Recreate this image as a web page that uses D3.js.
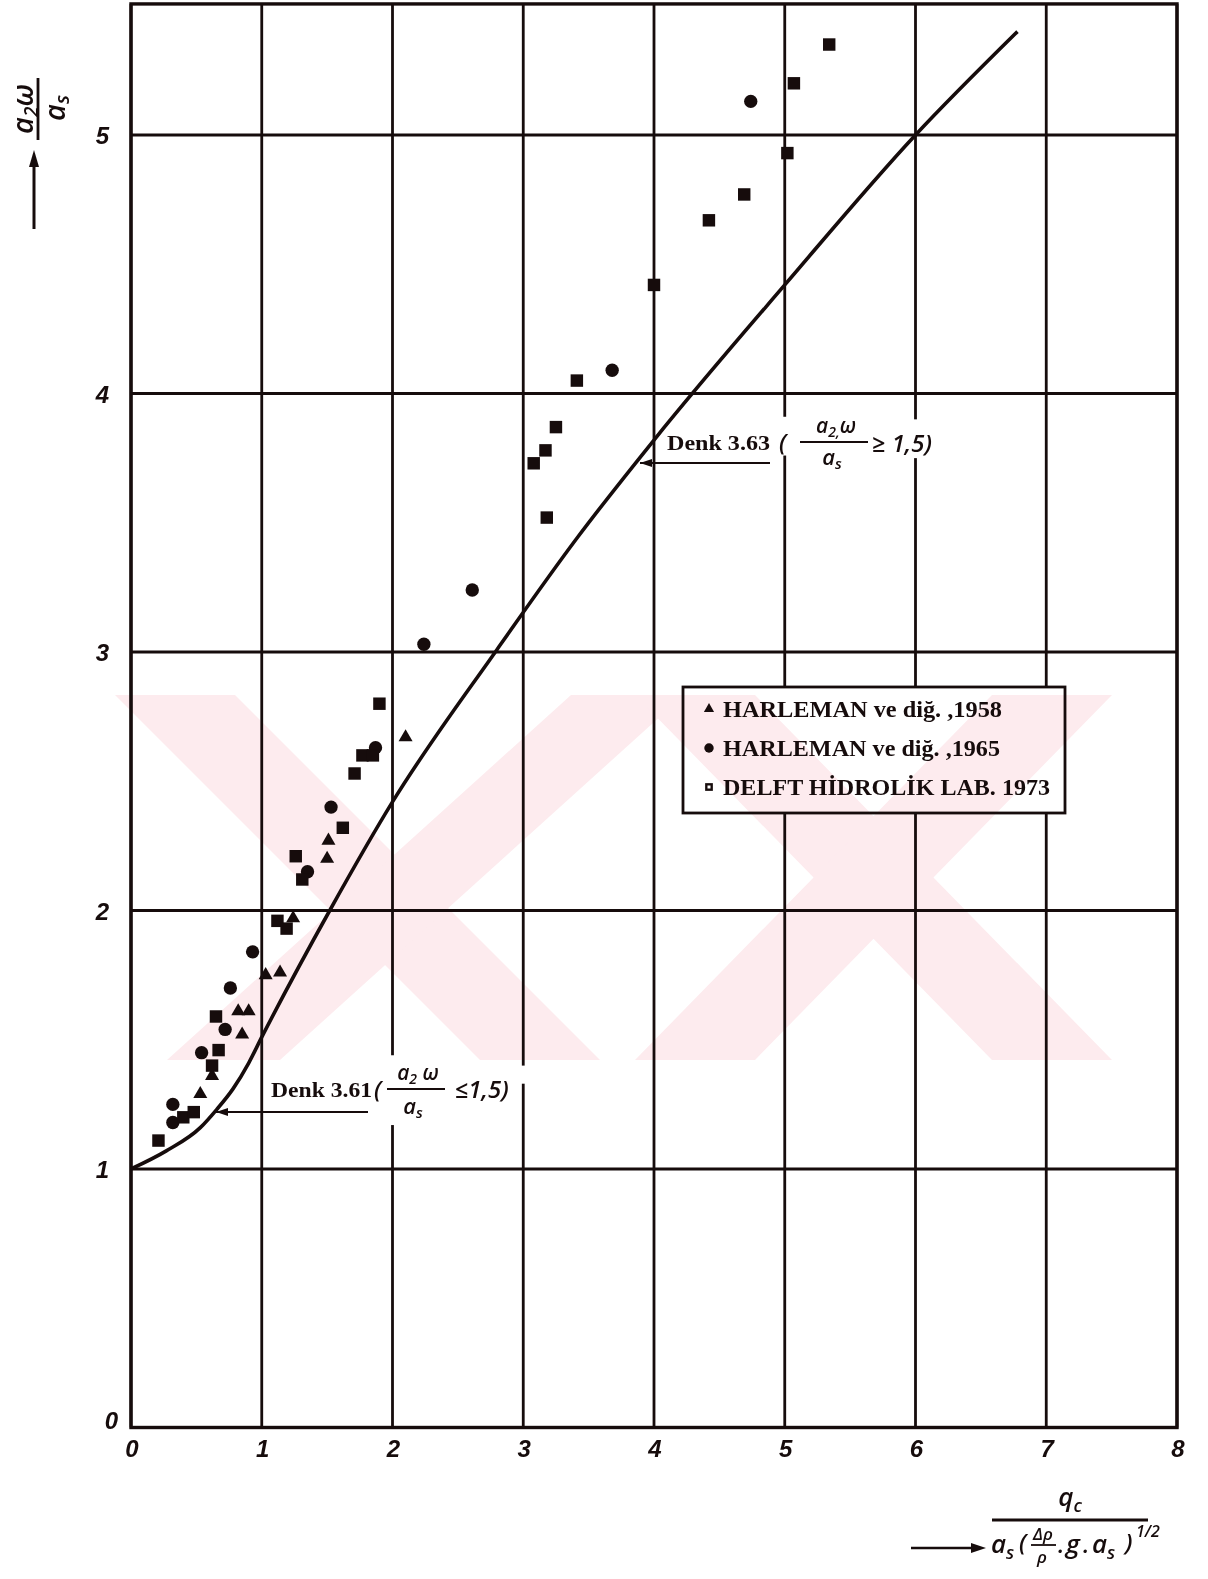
<!DOCTYPE html>
<html>
<head>
<meta charset="utf-8">
<script src="https://cdn.jsdelivr.net/npm/d3@7"></script>
<style>
body { margin: 0; background: #fff; }
svg { display: block; }
</style>
</head>
<body>
<div id="wrapper"></div>
<script>
// HARLEMAN ve diğ. 1958 (üçgen)
const h58X = [0.53, 0.62, 0.82, 0.90, 0.85, 1.03, 1.14, 1.24, 1.51, 1.50, 2.10];
const h58Y = [1.29, 1.36, 1.61, 1.61, 1.52, 1.75, 1.76, 1.97, 2.27, 2.20, 2.67];
// HARLEMAN ve diğ. 1965 (daire)
const h65X = [0.32, 0.32, 0.54, 0.72, 0.76, 0.93, 1.35, 1.53, 1.87, 2.24, 2.61, 3.68, 4.74];
const h65Y = [1.18, 1.25, 1.45, 1.54, 1.70, 1.84, 2.15, 2.40, 2.63, 3.03, 3.24, 4.09, 5.13];
// DELFT HİDROLİK LAB. 1973 (kare)
const delftX = [0.21, 0.40, 0.48, 0.62, 0.67, 0.65, 1.12, 1.19, 1.26, 1.31, 1.62, 1.71, 1.77, 1.85, 1.90,
                3.08, 3.17, 3.25, 3.18, 3.41, 4.00, 4.42, 4.69, 5.02, 5.07, 5.34];
const delftY = [1.11, 1.20, 1.22, 1.40, 1.46, 1.59, 1.96, 1.93, 2.21, 2.12, 2.32, 2.53, 2.60, 2.60, 2.80,
                3.73, 3.78, 3.87, 3.52, 4.05, 4.42, 4.67, 4.77, 4.93, 5.20, 5.35];
// Denk 3.61 / 3.63 eğrisi
const curveX = [0, 0.27, 0.53, 0.655, 0.78, 0.9, 1.0, 1.52, 2.0, 2.8, 3.41, 4.0, 5.0, 6.0, 6.78];
const curveY = [1, 1.07, 1.16, 1.23, 1.31, 1.41, 1.51, 2.0, 2.42, 3.01, 3.44, 3.82, 4.42, 5.0, 5.40];

const xTicks = [0, 1, 2, 3, 4, 5, 6, 7, 8];
const yTicks = [0, 1, 2, 3, 4, 5];
const legendLabels = ["HARLEMAN ve diğ. ,1958", "HARLEMAN ve diğ. ,1965", "DELFT HİDROLİK LAB. 1973"];

const width = 1208, height = 1579;
const ink = "#160c0c";
const mathFont = "'Open Sans', sans-serif";
const serifFont = "'Liberation Serif', 'Times New Roman', serif";

const svg = d3.select("#wrapper").append("svg")
    .attr("width", width)
    .attr("height", height);

svg.append("rect").attr("width", width).attr("height", height).attr("fill", "#fff");

const x = d3.scaleLinear().domain([0, 8]).range([131, 1177]);
const y = d3.scaleLinear().domain([0, 5]).range([1427.5, 135]);
const yTop = 5.507;

// grid
const grid = svg.append("g").attr("stroke", ink).attr("stroke-width", 2.8);
grid.selectAll("line.v").data(xTicks).join("line")
    .attr("x1", d => x(d)).attr("x2", d => x(d))
    .attr("y1", y(yTop)).attr("y2", y(0));
grid.selectAll("line.h").data(yTicks).join("line")
    .attr("x1", x(0)).attr("x2", x(8))
    .attr("y1", d => y(d)).attr("y2", d => y(d));
svg.append("rect")
    .attr("x", x(0)).attr("y", y(yTop))
    .attr("width", x(8) - x(0)).attr("height", y(0) - y(yTop))
    .attr("fill", "none").attr("stroke", ink).attr("stroke-width", 3.4);

// gaps in grid where the labels sit
const gaps = [[5, 3.76, 3.91], [6, 3.75, 3.90], [2, 1.17, 1.44], [3, 1.33, 1.40]];
svg.append("g").selectAll("rect").data(gaps).join("rect")
    .attr("x", d => x(d[0]) - 3).attr("width", 6)
    .attr("y", d => y(d[2])).attr("height", d => y(d[1]) - y(d[2]))
    .attr("fill", "#fff");

// curve
const line = d3.line()
    .x((d, i) => x(curveX[i]))
    .y(d => y(d))
    .curve(d3.curveMonotoneX);
svg.append("path")
    .attr("d", line(curveY))
    .attr("fill", "none")
    .attr("stroke", ink)
    .attr("stroke-width", 3.6);

// points
function drawSeries(xs, ys, type, size) {
    const sym = d3.symbol().type(type).size(size);
    svg.append("g").selectAll("path").data(ys).join("path")
        .attr("d", sym)
        .attr("transform", (d, i) => `translate(${x(xs[i])},${y(d)})`)
        .attr("fill", ink);
}
drawSeries(h58X, h58Y, d3.symbolTriangle, 85);
drawSeries(h65X, h65Y, d3.symbolCircle, 140);
drawSeries(delftX, delftY, d3.symbolSquare, 155);

// tick labels
const tickStyle = s => s.style("font-family", "'Liberation Sans', Arial, sans-serif")
    .style("font-weight", "bold").style("font-style", "italic")
    .style("font-size", "24px").attr("fill", ink);
svg.append("g").selectAll("text").data(xTicks).join("text")
    .attr("x", d => x(d) + 1).attr("y", 1457)
    .attr("text-anchor", "middle")
    .text(d => d)
    .call(tickStyle);
svg.append("g").selectAll("text").data(yTicks).join("text")
    .attr("x", d => d === 0 ? 118 : 109)
    .attr("y", d => y(d) + (d === 0 ? 1 : 9))
    .attr("text-anchor", "end")
    .text(d => d)
    .call(tickStyle);

// legend
const legend = svg.append("g");
legend.append("rect")
    .attr("x", 683).attr("y", 687).attr("width", 382).attr("height", 126)
    .attr("fill", "#fff").attr("stroke", ink).attr("stroke-width", 2.8);
const legendTypes = [d3.symbolTriangle, d3.symbolCircle, d3.symbolSquare];
const legendSizes = [45, 70, 60];
const legendLengths = [279, 277, 327];
legendLabels.forEach((label, i) => {
    const cy = 710 + i * 39;
    legend.append("path")
        .attr("d", d3.symbol().type(legendTypes[i]).size(legendSizes[i]))
        .attr("transform", `translate(709,${cy - 1})`)
        .attr("fill", ink);
    legend.append("text")
        .attr("x", 723).attr("y", cy + 7)
        .attr("textLength", legendLengths[i])
        .attr("lengthAdjust", "spacingAndGlyphs")
        .style("font-family", serifFont).style("font-weight", "bold")
        .style("font-size", "23px").attr("fill", ink)
        .text(label);
});
legend.append("rect").attr("x", 707.5).attr("y", 785.5).attr("width", 3).attr("height", 3).attr("fill", "#fff");

// annotations
function arrowLeft(x1, x2, yy) {
    svg.append("line").attr("x1", x1).attr("x2", x2).attr("y1", yy).attr("y2", yy)
        .attr("stroke", ink).attr("stroke-width", 2);
    svg.append("path")
        .attr("d", `M${x2},${yy} l12,-4 l0,8 z`)
        .attr("fill", ink);
}
function serifText(tx, ty, s, len) {
    svg.append("text").attr("x", tx).attr("y", ty)
        .attr("textLength", len).attr("lengthAdjust", "spacingAndGlyphs")
        .style("font-family", serifFont).style("font-weight", "bold")
        .style("font-size", "22px").attr("fill", ink).text(s);
}
function mathText(tx, ty, size, anchor) {
    return svg.append("text").attr("x", tx).attr("y", ty)
        .attr("text-anchor", anchor || "start")
        .style("font-family", mathFont).style("font-style", "italic")
        .style("font-weight", 600).style("font-size", size + "px").attr("fill", ink);
}
function hline(x1, x2, yy, w) {
    svg.append("line").attr("x1", x1).attr("x2", x2).attr("y1", yy).attr("y2", yy)
        .attr("stroke", ink).attr("stroke-width", w || 2);
}

// Denk 3.63
serifText(667, 450, "Denk 3.63", 103);
mathText(779, 451, 24).text("(");
const n1 = mathText(836, 433, 21, "middle");
n1.append("tspan").text("a");
n1.append("tspan").attr("font-size", "14px").attr("dy", 4).text("2,");
n1.append("tspan").attr("dy", -4).text("ω");
hline(800, 868, 442, 2);
const d1 = mathText(832, 465, 22, "middle");
d1.append("tspan").text("a");
d1.append("tspan").attr("font-size", "15px").attr("dy", 4).text("s");
mathText(872, 452, 24).text("≥ 1,5)");
arrowLeft(770, 640, 463);

// Denk 3.61
serifText(271, 1097, "Denk 3.61", 101);
mathText(374, 1098, 24).text("(");
const n2 = mathText(418, 1080, 21, "middle");
n2.append("tspan").text("a");
n2.append("tspan").attr("font-size", "14px").attr("dy", 4).text("2");
n2.append("tspan").attr("dy", -4).text(" ω");
hline(387, 445, 1089, 2);
const d2 = mathText(413, 1114, 22, "middle");
d2.append("tspan").text("a");
d2.append("tspan").attr("font-size", "15px").attr("dy", 4).text("s");
mathText(455, 1098, 24).text("≤1,5)");
arrowLeft(368, 216, 1112);

// y axis title (rotated fraction + arrow)
const yt = svg.append("g").attr("transform", "translate(38,108) rotate(-90)");
yt.append("line").attr("x1", -32).attr("x2", 30).attr("y1", 0).attr("y2", 0)
    .attr("stroke", ink).attr("stroke-width", 2.8);
const yn = yt.append("text").attr("x", -1).attr("y", -5).attr("text-anchor", "middle")
    .style("font-family", mathFont).style("font-style", "italic").style("font-weight", 600)
    .style("font-size", "29px").attr("fill", ink);
yn.append("tspan").text("a");
yn.append("tspan").attr("font-size", "19px").attr("dy", 5).text("2");
yn.append("tspan").attr("dy", -5).text("ω");
const yd = yt.append("text").attr("x", 0).attr("y", 27).attr("text-anchor", "middle")
    .style("font-family", mathFont).style("font-style", "italic").style("font-weight", 600)
    .style("font-size", "29px").attr("fill", ink);
yd.append("tspan").text("a");
yd.append("tspan").attr("font-size", "20px").attr("dy", 4).text("s");
svg.append("line").attr("x1", 34).attr("x2", 34).attr("y1", 229).attr("y2", 165)
    .attr("stroke", ink).attr("stroke-width", 3);
svg.append("path").attr("d", "M34,150 l-5,17 l10,0 z").attr("fill", ink);

// x axis title
const xn = mathText(1070, 1506, 26, "middle");
xn.append("tspan").text("q");
xn.append("tspan").attr("font-size", "18px").attr("dy", 6).text("c");
hline(992, 1148, 1520, 2.8);
const xa = mathText(991, 1553, 26);
xa.append("tspan").text("a");
xa.append("tspan").attr("font-size", "18px").attr("dy", 6).text("s");
mathText(1019, 1551, 24).text("(");
mathText(1043, 1540, 17, "middle").text("Δρ");
hline(1031, 1056, 1545, 1.8);
mathText(1042, 1563, 17, "middle").text("ρ");
mathText(1058, 1553, 24).text(".");
mathText(1066, 1553, 26).text("g");
mathText(1083, 1553, 24).text(".");
const xb = mathText(1092, 1553, 26);
xb.append("tspan").text("a");
xb.append("tspan").attr("font-size", "18px").attr("dy", 6).text("s");
mathText(1125, 1551, 24).text(")");
mathText(1136, 1537, 16).text("1/2");
svg.append("line").attr("x1", 911).attr("x2", 972).attr("y1", 1548).attr("y2", 1548)
    .attr("stroke", ink).attr("stroke-width", 2.4);
svg.append("path").attr("d", "M986,1548 l-15,-5 l0,10 z").attr("fill", ink);

// watermark (pale pink, multiplied over the drawing)
const wm = svg.append("g").style("mix-blend-mode", "multiply").attr("fill", "#fdebee");
const bands = [
    [[115, 695], [235, 695], [600, 1060], [480, 1060]],
    [[571, 695], [684, 695], [280, 1060], [167, 1060]],
    [[635, 695], [755, 695], [1112, 1060], [992, 1060]],
    [[992, 695], [1112, 695], [755, 1060], [635, 1060]]
];
wm.selectAll("polygon").data(bands).join("polygon")
    .attr("points", d => d.map(p => p.join(",")).join(" "));
</script>
</body>
</html>
